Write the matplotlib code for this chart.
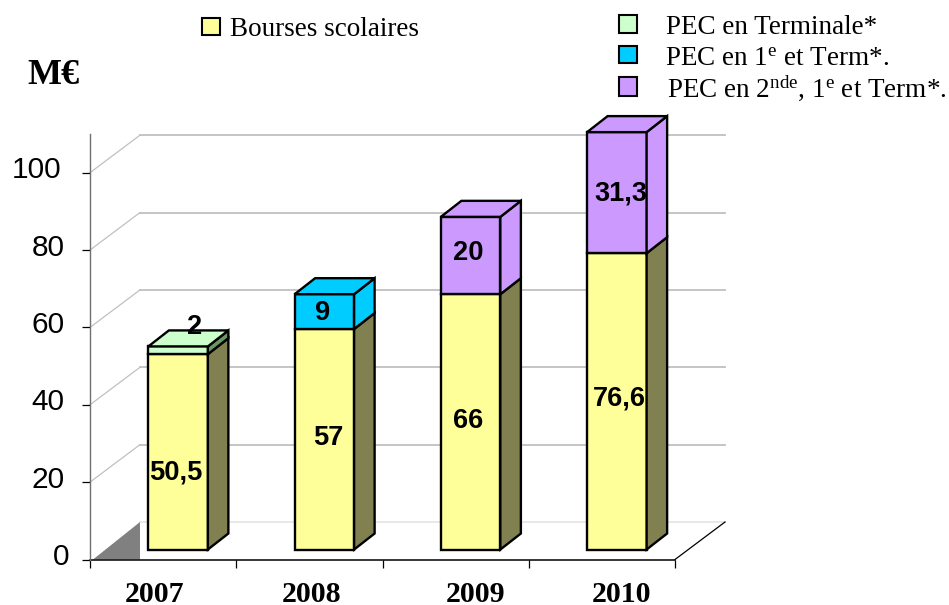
import matplotlib
matplotlib.use("Agg")
import matplotlib.pyplot as plt
from matplotlib.patches import Polygon, Rectangle
from matplotlib.transforms import Affine2D

plt.rcParams['mathtext.fontset'] = 'custom'
plt.rcParams['mathtext.rm'] = 'Liberation Serif'
plt.rcParams['mathtext.default'] = 'rm'

# Data
years = ['2007', '2008', '2009', '2010']
bourses = [50.5, 57, 66, 76.6]
pec_terminale = [2, 0, 0, 0]
pec_1ere = [0, 9, 0, 0]
pec_2nde = [0, 0, 20, 31.3]
value_labels_bourses = ['50,5', '57', '66', '76,6']
value_labels_pec = ['2', '9', '20', '31,3']
y_ticks = [0, 20, 40, 60, 80, 100]
legend_names = ['Bourses scolaires', 'PEC en Terminale*',
                'PEC en 1$^{e}$ et Term*.', 'PEC en 2$^{nde}$, 1$^{e}$ et Term*.']

# Colours
YEL, YEL_S = '#FFFF99', '#808050'
GRN, GRN_S = '#CCFFCC', '#669966'
CYA = '#00CCFF'
PUR = '#CC99FF'

W, H = 949, 605
fig = plt.figure(figsize=(W / 100, H / 100), dpi=100, facecolor='white')
L, R, B, T = 90, 675, 559.5, 134
ax = fig.add_axes([L / W, 1 - B / H, (R - L) / W, (B - T) / H])
ax.set_xlim(-0.5, 3.5)
ax.set_ylim(0, 110)
ax.patch.set_alpha(0)
PX = 4 / (R - L)          # data x per pixel
PY = 110 / (B - T)        # data y per pixel

# Back wall and floor
wx, wy = 50 * PX, 37.5 * PY
for v in y_ticks:
    c = '#E6E6E6' if v == 0 else '#C0C0C0'
    if v:
        ax.plot([-0.5, -0.5 + wx], [v, v + wy], color=c, lw=0.9, clip_on=False, zorder=1)
    ax.plot([-0.5 + wx, 3.5 + wx], [v + wy, v + wy], color=c, lw=1.3, clip_on=False, zorder=1)
ax.plot([3.5, 3.5 + wx], [0, wy], color='black', lw=0.9, clip_on=False, zorder=1)
ax.add_patch(Polygon([(-0.5 + 3 * PX, 0), (-0.5 + wx, wy), (-0.5 + wx, 0)],
                     fc='#808080', ec='none', zorder=1))

# Bars
bw, dx, dy = 59.5 * PX, 20.5 * PX, 16 * PY
shift, lift = 15 * PX, 10 * PY


def box(x, y0, y1, front, side, top=None):
    kw = dict(ec='black', lw=1.7, joinstyle='miter', clip_on=False, zorder=3)
    ax.add_patch(Polygon([(x, y0), (x + bw, y0), (x + bw, y1), (x, y1)], fc=front, **kw))
    ax.add_patch(Polygon([(x + bw, y0), (x + bw + dx, y0 + dy), (x + bw + dx, y1 + dy),
                          (x + bw, y1)], fc=side, **kw))
    if top:
        ax.add_patch(Polygon([(x, y1), (x + bw, y1), (x + bw + dx, y1 + dy), (x + dx, y1 + dy)],
                             fc=top, **kw))


nudge_low = [(-2, -21), (4, 1), (-2, 1), (3, 3)]
nudge_high = [(16, 23), (-2, -1), (-2, 3), (4, -1)]
for i, b in enumerate(bourses):
    x = i - bw / 2 + shift
    upper = [(pec_terminale[i], GRN, GRN_S), (pec_1ere[i], CYA, CYA), (pec_2nde[i], PUR, PUR)]
    val, cf, cs = next(u for u in upper if u[0])
    box(x, lift, lift + b, YEL, YEL_S)
    box(x, lift + b, lift + b + val, cf, cs, cf)
    for y, lab, n in ((lift + b / 2, value_labels_bourses[i], nudge_low[i]),
                      (lift + b + val / 2, value_labels_pec[i], nudge_high[i])):
        ax.annotate(lab, (i + shift, y), xytext=(n[0] * 0.72, n[1] * 0.72),
                    textcoords='offset points', ha='center', va='center', zorder=5,
                    family='Liberation Sans', weight='bold', fontsize=19.6, color='black',
                    annotation_clip=False)

# Axes furniture
for s in ('top', 'right'):
    ax.spines[s].set_visible(False)
ax.spines['left'].set_color('#707070')
ax.spines['left'].set_linewidth(1.0)
ax.spines['bottom'].set_color('black')
ax.spines['bottom'].set_linewidth(1.1)
ax.spines['bottom'].set_zorder(2)
ax.set_xticks([-0.5, 0.5, 1.5, 2.5, 3.5], labels=[])
ax.tick_params(axis='x', which='major', length=6, width=0.9, color='black')
ax.set_xticks(range(len(years)), labels=years, minor=True)
ax.tick_params(axis='x', which='minor', length=0, pad=15.5)
x_nudge = [-8.5, 2, 19.5, 20]
for lab, n in zip(ax.get_xticklabels(minor=True), x_nudge):
    lab.set_family('Liberation Serif')
    lab.set_weight('bold')
    lab.set_fontsize(21.5)
    lab.set_transform(lab.get_transform() + Affine2D().translate(n, 0))
ax.set_yticks(y_ticks, labels=[str(v) for v in y_ticks])
ax.tick_params(axis='y', length=6, width=0.9, color='black', pad=12.5, labelsize=21.5)
y_nudge = [5, 0, 0, 0, 0, -3]
for lab, n in zip(ax.get_yticklabels(), y_nudge):
    lab.set_family('Liberation Sans')
    lab.set_transform(lab.get_transform() + Affine2D().translate(n, 5.5))

# Legend and unit, positioned in figure pixels
px = Affine2D().scale(1, -1).translate(0, H)


def swatch(x0, y0, x1, y1, color):
    fig.add_artist(Rectangle((x0 + 1, y0 + 1), x1 - x0, y1 - y0, fc='#A0A0A0', ec='none',
                             transform=px))
    fig.add_artist(Rectangle((x0, y0), x1 - x0, y1 - y0, fc=color, ec='black', lw=1.5,
                             transform=px))


swatch(202, 18, 220, 35, YEL)
swatch(619, 15, 637, 33, GRN)
swatch(619, 46, 637, 63, CYA)
swatch(619, 77, 637, 96, PUR)
text_kw = dict(family='Liberation Serif', fontsize=19.5, va='center', ha='left', color='black',
               transform=px)
fig.text(230, 30, legend_names[0], **text_kw)
fig.text(666, 28, legend_names[1], **text_kw)
fig.text(665, 59, legend_names[2], **text_kw)
fig.text(667, 88.5, legend_names[3], **text_kw)
fig.text(27, 75, 'M€', family='Liberation Serif', weight='bold', fontsize=26, va='center',
         ha='left', transform=px)

fig.savefig('out.png', dpi=100)
